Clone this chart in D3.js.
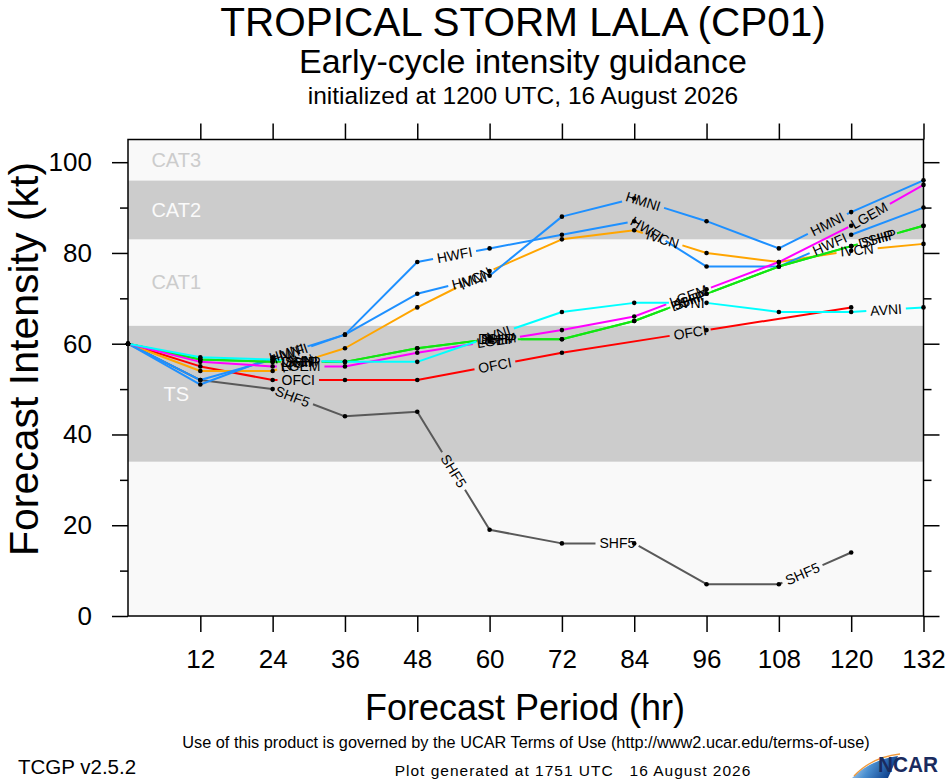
<!DOCTYPE html>
<html>
<head>
<meta charset="utf-8">
<script src="https://cdn.jsdelivr.net/npm/d3@7/dist/d3.min.js"></script>
<style>
  body { margin: 0; background: #fff; }
  svg { display: block; }
  text { font-family: "Liberation Sans", Arial, Helvetica, sans-serif; }
</style>
</head>
<body>
<div id="chart"></div>
<script>
// Early-cycle intensity guidance, TS LALA (CP01)
var hours = [0, 12, 24, 36, 48, 60, 72, 84, 96, 108, 120, 132];
var ofciHours = [0, 12, 24, 36, 48, 72, 96, 120];

var shf5 = [60, 52, 50, 44, 45, 19, 16, 16, 7, 7, 14];
var ofci = [60, 55, 52, 52, 52, 58, 63, 68];
var ivcn = [60, 54, 54, 59, 68, 76, 83, 85, 80, 78, 80.5, 82];
var hwfi = [60, 52, 56.5, 62, 78, 81, 84, 87, 77, 77, 84, 90];
var hmni = [60, 51, 57, 62, 71, 75, 88, 92, 87, 81, 89, 96];
var dshp = [60, 56.5, 56, 56, 59, 61, 61, 65, 71, 77, 81.5, 86];
var ship = [60, 56.5, 56, 56, 59, 61, 61, 65, 71, 77, 81.5, 86];
var lgem = [60, 56, 55, 55, 58, 60.5, 63, 66, 72, 78, 86, 95];
var avni = [60, 57, 56.5, 56, 56, 61.5, 67, 69, 69, 67, 67, 68];

var modelNames = ['SHF5', 'OFCI', 'IVCN', 'HWFI', 'HMNI', 'SHIP', 'DSHP', 'LGEM', 'AVNI'];
var modelValues = [shf5, ofci, ivcn, hwfi, hmni, ship, dshp, lgem, avni];
var modelHours = [hours, ofciHours, hours, hours, hours, hours, hours, hours, hours];
var modelColors = ['#595959', '#ff0000', '#ffa500', '#1e90ff', '#1e90ff', '#11e611', '#11e611', '#ff00ff', '#00ffff'];

// intensity categories (kt)
var bandLo = [0, 34, 64, 83, 96];
var bandHi = [34, 64, 83, 96, 105];
var bandNames = ['', 'TS', 'CAT1', 'CAT2', 'CAT3'];
var bandDark = [false, true, false, true, false];

var xTicks = [12, 24, 36, 48, 60, 72, 84, 96, 108, 120, 132];
var yTicks = [0, 20, 40, 60, 80, 100];
var yMinor = [10, 30, 50, 70, 90];

var W = 946, H = 780;
var pL = 128, pR = 923.5, pT = 139.5, pB = 616;
var font = '"Liberation Sans", Arial, Helvetica, sans-serif';

var svg = d3.select('#chart').append('svg').attr('width', W).attr('height', H);

var x = d3.scaleLinear().domain([0, 132]).range([pL, pR]);
var y = d3.scaleLinear().domain([0, 105]).range([pB, pT]);

// titles
svg.append('text').attr('x', 523).attr('y', 36).attr('text-anchor', 'middle')
  .attr('font-size', 40.5).text('TROPICAL STORM LALA (CP01)');
svg.append('text').attr('x', 523).attr('y', 73).attr('text-anchor', 'middle')
  .attr('font-size', 34).text('Early-cycle intensity guidance');
svg.append('text').attr('x', 523).attr('y', 104).attr('text-anchor', 'middle')
  .attr('font-size', 24.5).text('initialized at 1200 UTC, 16 August 2026');

// bands
var g = svg.append('g');
g.selectAll('.band').data(bandLo).enter().append('rect')
  .attr('x', pL).attr('width', pR - pL)
  .attr('y', function(d, i) { return y(bandHi[i]); })
  .attr('height', function(d, i) { return y(d) - y(bandHi[i]); })
  .attr('fill', function(d, i) { return bandDark[i] ? '#cccccc' : '#f9f9f9'; });

g.selectAll('.bandlabel').data(bandNames).enter().append('text')
  .attr('x', x(8)).attr('y', function(d, i) { return y((bandLo[i] + bandHi[i]) / 2); })
  .attr('dy', '0.35em').attr('text-anchor', 'middle').attr('font-size', 20)
  .attr('fill', function(d, i) { return bandDark[i] ? '#fafafa' : '#cccccc'; })
  .text(function(d) { return d; });

// model lines with inline labels
var line = d3.line().x(function(d) { return x(d[0]); }).y(function(d) { return y(d[1]); });
var labelStart = 175, labelStep = 198, pad = 4, labelSize = 14;

var plot = svg.append('g');
var dots = svg.append('g');
var labelLayer = svg.append('g');

modelNames.forEach(function(name, m) {
  var pts = modelValues[m].map(function(v, i) { return [modelHours[m][i], v]; });
  var path = plot.append('path').attr('d', line(pts)).attr('fill', 'none')
    .attr('stroke', modelColors[m]).attr('stroke-width', 2).attr('stroke-linejoin', 'round');
  var node = path.node();
  var len = node.getTotalLength();

  var probe = labelLayer.append('text').attr('font-size', labelSize).text(name);
  var tw = probe.node().getComputedTextLength();
  probe.remove();

  var dash = [], pos = 0;
  for (var s = labelStart; s + tw / 2 < len; s += labelStep) {
    var a = node.getPointAtLength(Math.max(0, s - 1)), b = node.getPointAtLength(Math.min(len, s + 1));
    var c = node.getPointAtLength(s);
    var ang = Math.atan2(b.y - a.y, b.x - a.x) * 180 / Math.PI;
    if (ang > 90) ang -= 180;
    if (ang < -90) ang += 180;
    labelLayer.append('text').attr('font-size', labelSize).attr('text-anchor', 'middle').attr('dy', '0.35em')
      .attr('transform', 'translate(' + c.x + ',' + c.y + ') rotate(' + ang + ')')
      .text(name);
    var g0 = s - tw / 2 - pad, g1 = s + tw / 2 + pad;
    dash.push(g0 - pos, g1 - g0);
    pos = g1;
  }
  dash.push(len - pos + 10, 0);
  path.attr('stroke-dasharray', dash.join(','));

  dots.selectAll(null).data(pts).enter().append('circle')
    .attr('cx', function(d) { return x(d[0]); }).attr('cy', function(d) { return y(d[1]); })
    .attr('r', 2.3).attr('fill', '#000');
});

// frame and ticks
function styleAxis(sel) {
  sel.select('.domain').remove();
  sel.selectAll('line').attr('stroke', '#000').attr('stroke-width', 1.5);
  sel.selectAll('text').attr('font-family', font).attr('fill', '#000');
}
svg.append('g').attr('transform', 'translate(' + pL + ',0)')
  .call(d3.axisLeft(y).tickValues(yTicks).tickSize(16).tickPadding(20))
  .call(styleAxis).selectAll('text').attr('font-size', 26);
svg.append('g').attr('transform', 'translate(' + pL + ',0)')
  .call(d3.axisLeft(y).tickValues(yMinor).tickSize(8).tickFormat(''))
  .call(styleAxis);
svg.append('g').attr('transform', 'translate(' + pR + ',0)')
  .call(d3.axisRight(y).tickValues(yTicks).tickSize(16).tickFormat(''))
  .call(styleAxis);
svg.append('g').attr('transform', 'translate(' + pR + ',0)')
  .call(d3.axisRight(y).tickValues(yMinor).tickSize(8).tickFormat(''))
  .call(styleAxis);
svg.append('g').attr('transform', 'translate(0,' + pB + ')')
  .call(d3.axisBottom(x).tickValues(xTicks).tickSize(16).tickPadding(18))
  .call(styleAxis).selectAll('text').attr('font-size', 26);
svg.append('g').attr('transform', 'translate(0,' + pT + ')')
  .call(d3.axisTop(x).tickValues(xTicks).tickSize(16).tickFormat(''))
  .call(styleAxis);
svg.append('rect').attr('x', pL).attr('y', pT).attr('width', pR - pL).attr('height', pB - pT)
  .attr('fill', 'none').attr('stroke', '#000').attr('stroke-width', 1.5);

// axis titles
svg.append('text').attr('x', 525).attr('y', 720).attr('text-anchor', 'middle')
  .attr('font-size', 36).text('Forecast Period (hr)');
svg.append('text').attr('transform', 'translate(38,359) rotate(-90)').attr('text-anchor', 'middle')
  .attr('font-size', 41).text('Forecast Intensity (kt)');

// footer
svg.append('text').attr('x', 526).attr('y', 748).attr('text-anchor', 'middle')
  .attr('font-size', 16.3).text('Use of this product is governed by the UCAR Terms of Use (http://www2.ucar.edu/terms-of-use)');
svg.append('text').attr('x', 18).attr('y', 774).attr('font-size', 20.5).text('TCGP v2.5.2');
svg.append('text').attr('x', 573).attr('y', 776).attr('text-anchor', 'middle')
  .attr('font-size', 15.5).attr('letter-spacing', 1).attr('xml:space', 'preserve')
  .text('Plot generated at 1751 UTC   16 August 2026');

// NCAR logo
var defs = svg.append('defs');
var grad = defs.append('linearGradient').attr('id', 'sw').attr('x1', 0).attr('y1', 0).attr('x2', 1).attr('y2', 0.3);
grad.append('stop').attr('offset', 0).attr('stop-color', '#d6e8f7');
grad.append('stop').attr('offset', 0.5).attr('stop-color', '#4a8fd0');
grad.append('stop').attr('offset', 1).attr('stop-color', '#0d3f8c');
svg.append('path').attr('d', 'M852,778 Q870,760 898,756 L888,778 Z').attr('fill', 'url(#sw)');
svg.append('path').attr('d', 'M854,776 Q872,757 900,754').attr('fill', 'none')
  .attr('stroke', '#f29a3a').attr('stroke-width', 1.3);
svg.append('text').attr('x', 878).attr('y', 772).attr('font-size', 22).attr('font-weight', 'bold')
  .attr('fill', '#1a2b5e').attr('textLength', 60).attr('lengthAdjust', 'spacingAndGlyphs').text('NCAR');
</script>
</body>
</html>
